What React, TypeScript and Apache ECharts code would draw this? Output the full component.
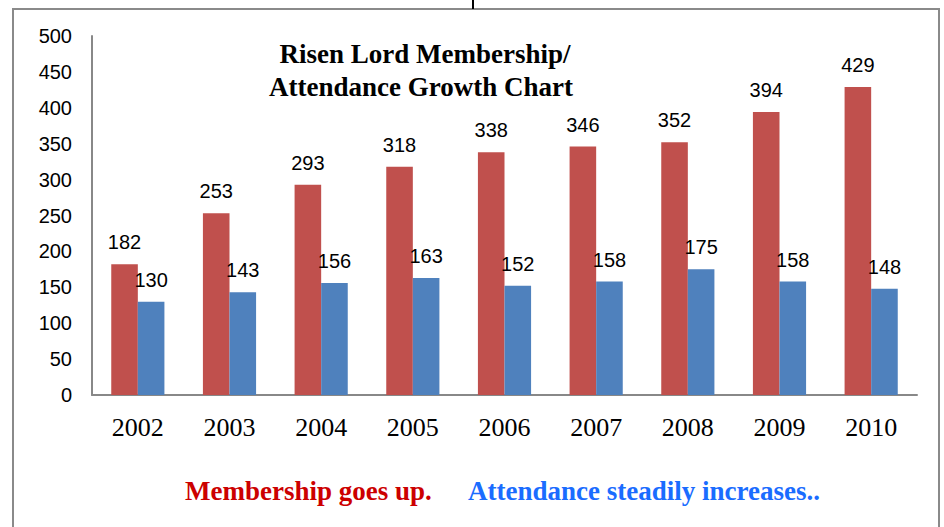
import React, { useEffect, useRef } from "react";
import * as echarts from "echarts";

const years = ["2002", "2003", "2004", "2005", "2006", "2007", "2008", "2009", "2010"];
const membership = [182, 253, 293, 318, 338, 346, 352, 394, 429];
const attendance = [130, 143, 156, 163, 152, 158, 175, 158, 148];
const titleLines = ["Risen Lord Membership/", "Attendance Growth Chart"];
const noteRed = "Membership goes up.";
const noteBlue = "Attendance steadily increases..";

export default function App() {
  const ref = useRef<HTMLDivElement>(null);
  useEffect(() => {
    if (!ref.current) return;
    const chart = echarts.init(ref.current, null, { renderer: "svg" });
    const labelStyle = {
      show: true,
      position: "top" as const,
      distance: 12,
      fontFamily: "Liberation Sans, Arial, sans-serif",
      fontSize: 20,
      color: "#000",
    };
    const serif = "Liberation Serif, Times New Roman, serif";
    chart.setOption({
      animation: false,
      backgroundColor: "#fff",
      grid: { left: 92, right: 27, top: 36, bottom: 132, containLabel: false },
      xAxis: {
        type: "category",
        data: years,
        axisLine: { lineStyle: { color: "#888", width: 2 } },
        axisTick: { show: false },
        axisLabel: {
          fontFamily: serif,
          fontSize: 26,
          color: "#000",
          margin: 19,
        },
      },
      yAxis: {
        type: "value",
        min: 0,
        max: 500,
        interval: 50,
        axisLine: { show: true, lineStyle: { color: "#888", width: 2 } },
        axisTick: { show: false },
        splitLine: { show: false },
        axisLabel: {
          fontFamily: "Liberation Sans, Arial, sans-serif",
          fontSize: 20,
          color: "#000",
          margin: 20,
        },
      },
      series: [
        {
          name: "Membership",
          type: "bar",
          data: membership,
          barGap: "0%",
          barCategoryGap: "42%",
          itemStyle: { color: "#C0504D" },
          label: labelStyle,
        },
        {
          name: "Attendance",
          type: "bar",
          data: attendance,
          barGap: "0%",
          barCategoryGap: "42%",
          itemStyle: { color: "#4F81BD" },
          label: labelStyle,
        },
      ],
      graphic: [
        {
          type: "rect",
          shape: { x: 13, y: 9, width: 926, height: 540 },
          style: { fill: "none", stroke: "#8a8a8a", lineWidth: 2 },
          silent: true,
          z: -1,
        },
        {
          type: "line",
          shape: { x1: 473, y1: 0, x2: 473, y2: 9 },
          style: { stroke: "#000", lineWidth: 2 },
        },
        {
          type: "text",
          x: 425,
          y: 54,
          style: {
            text: titleLines[0],
            fontFamily: serif,
            fontWeight: "bold",
            fontSize: 27,
            fill: "#000",
            align: "center",
            verticalAlign: "middle",
          },
        },
        {
          type: "text",
          x: 421,
          y: 87,
          style: {
            text: titleLines[1],
            fontFamily: serif,
            fontWeight: "bold",
            fontSize: 27,
            fill: "#000",
            align: "center",
            verticalAlign: "middle",
          },
        },
        {
          type: "text",
          x: 185,
          y: 491,
          style: {
            text: noteRed,
            fontFamily: serif,
            fontWeight: "bold",
            fontSize: 27,
            fill: "#CC0000",
            align: "left",
            verticalAlign: "middle",
          },
        },
        {
          type: "text",
          x: 468,
          y: 491,
          style: {
            text: noteBlue,
            fontFamily: serif,
            fontWeight: "bold",
            fontSize: 27,
            fill: "#1A6CFF",
            align: "left",
            verticalAlign: "middle",
          },
        },
      ],
    });
    return () => chart.dispose();
  }, []);
  return (
    <div
      ref={ref}
      style={{ position: "fixed", left: 0, top: 0, width: 944, height: 527 }}
    />
  );
}
